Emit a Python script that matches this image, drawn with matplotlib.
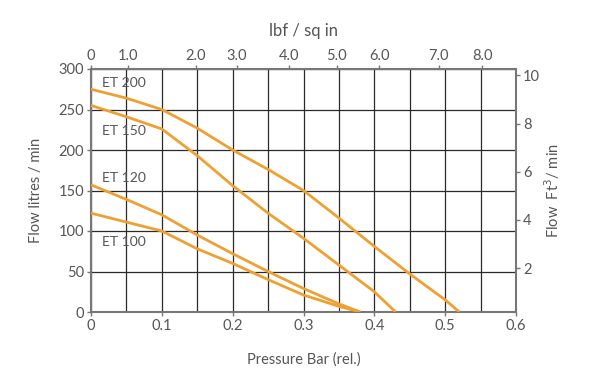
import matplotlib
matplotlib.use("Agg")
import matplotlib.pyplot as plt
import numpy as np

plt.rcParams['font.family'] = ['Lato', 'DejaVu Sans']

# Data (pressure in bar, flow in litres/min)
et200_x = [0.0, 0.05, 0.1, 0.15, 0.2, 0.25, 0.3, 0.35, 0.4, 0.45, 0.5, 0.52]
et200_y = [275, 264, 250, 227, 200, 176, 150, 116, 81, 47, 15, 0]
et150_x = [0.0, 0.05, 0.1, 0.15, 0.2, 0.25, 0.3, 0.35, 0.4, 0.43]
et150_y = [255, 241, 226, 193, 156, 122, 91, 58, 25, 0]
et120_x = [0.0, 0.05, 0.1, 0.15, 0.2, 0.25, 0.3, 0.35, 0.38]
et120_y = [157, 139, 120, 95, 72, 50, 29, 10, 0]
et100_x = [0.0, 0.05, 0.1, 0.15, 0.2, 0.25, 0.3, 0.35, 0.38]
et100_y = [122, 111, 100, 78, 60, 40, 21, 7, 0]

series_labels = ["ET 200", "ET 150", "ET 120", "ET 100"]
label_y = [283, 223, 165, 86]

bottom_ticks = [0, 0.1, 0.2, 0.3, 0.4, 0.5, 0.6]
bottom_ticklabels = ["0", "0.1", "0.2", "0.3", "0.4", "0.5", "0.6"]
left_ticks = [0, 50, 100, 150, 200, 250, 300]
top_tick_pos = [0.0, 0.0518, 0.148, 0.206, 0.279, 0.347, 0.407, 0.491, 0.552]
top_ticklabels = ["0", "1.0", "2.0", "3.0", "4.0", "5.0", "6.0", "7.0", "8.0"]
right_ticks = [2, 4, 6, 8, 10]
right_lim = (0.172, 10.27)

orange = "#EFA032"
txt = "#555555"
spine_c = "#777777"
grid_c = "#2a2a2a"
fs = 10.5

fig = plt.figure(figsize=(6.07, 3.77), dpi=100)
ax = fig.add_axes([91/607, 1-312/377, 425/607, 243/377])

ax.set_xlim(0, 0.6)
ax.set_ylim(0, 300)
ax.set_xticks(np.arange(0, 0.6001, 0.05), minor=True)
ax.set_yticks(left_ticks)
ax.set_xticks(bottom_ticks)
ax.set_xticklabels(bottom_ticklabels)
ax.grid(True, which='both', axis='x', color=grid_c, lw=0.9)
ax.grid(True, which='major', axis='y', color=grid_c, lw=0.9)
ax.set_axisbelow(True)
ax.tick_params(axis='both', which='both', colors=spine_c, labelcolor=txt,
               labelsize=fs, length=3, width=1, pad=2)
ax.tick_params(axis='x', which='minor', length=0)
for s in ax.spines.values():
    s.set_color(spine_c)
    s.set_linewidth(1.5)

for xs, ys in [(et200_x, et200_y), (et150_x, et150_y), (et120_x, et120_y), (et100_x, et100_y)]:
    ax.plot(xs, ys, color=orange, lw=2, solid_capstyle='butt', zorder=3)

for lab, yv in zip(series_labels, label_y):
    ax.text(0.0155, yv, lab, color=txt, fontsize=10, va='center', ha='left', zorder=4)

ax.set_xlabel("Pressure Bar (rel.)", color=txt, fontsize=10.5, labelpad=14)
ax.set_ylabel("Flow litres / min", color=txt, fontsize=10.5, labelpad=11)

# top axis
axt = ax.twiny()
axt.set_xlim(0, 0.6)
axt.set_xticks(top_tick_pos)
axt.set_xticklabels(top_ticklabels)
axt.tick_params(axis='x', colors=spine_c, labelcolor=txt, labelsize=fs, length=3, width=1, pad=1)
axt.set_xlabel("lbf / sq in", color=txt, fontsize=12, labelpad=10)
for s in axt.spines.values():
    s.set_visible(False)

# right axis
axr = ax.twinx()
axr.set_ylim(*right_lim)
axr.set_yticks(right_ticks)
axr.tick_params(axis='y', colors=spine_c, labelcolor=txt, labelsize=fs, length=3, width=1, pad=2)
axr.set_ylabel("Flow  Ft$^3$/ min", color=txt, fontsize=10.5, labelpad=2)
for s in axr.spines.values():
    s.set_visible(False)

fig.savefig("out.png", dpi=100, facecolor="white")
